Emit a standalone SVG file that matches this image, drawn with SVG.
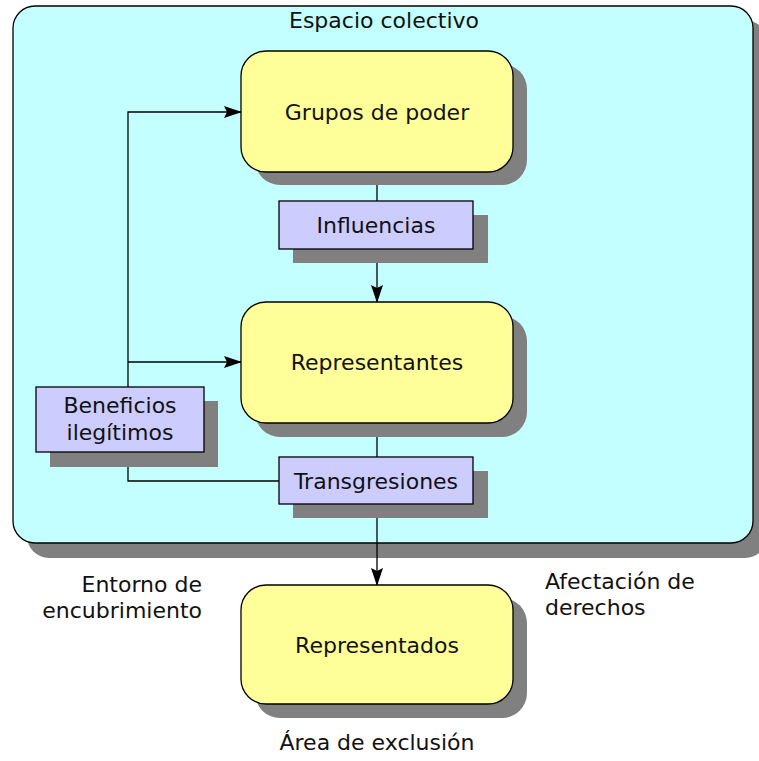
<svg xmlns="http://www.w3.org/2000/svg" width="759" height="761" viewBox="0 0 759 761">
<defs>
<style>
text{font-family:"DejaVu Sans","Verdana",sans-serif;font-size:22px;fill:#111;}
.c{text-anchor:middle;}
.sh{fill:#808080;}
.node{fill:#ffff99;stroke:#000;stroke-width:1.3;}
.lab{fill:#ccccff;stroke:#000;stroke-width:1.3;}
.ln{fill:none;stroke:#000;stroke-width:1.3;}
</style>
<marker id="ah" markerWidth="18" markerHeight="12" refX="17" refY="6" orient="auto" markerUnits="userSpaceOnUse">
<path d="M0,0 L18,6 L0,12 L3,6 Z" fill="#000"/>
</marker>
</defs>
<rect width="759" height="761" fill="#fff"/>
<g id="espacio-colectivo">
<rect class="sh" x="27" y="20" width="740" height="538" rx="22"/>
<rect x="13" y="6" width="740" height="537" rx="22" fill="#c4ffff" stroke="#000" stroke-width="1.3"/>
<text class="c" x="384" y="28">Espacio colectivo</text>
</g>
<g id="connectors">
<path class="ln" d="M377,172 V201"/>
<path class="ln" d="M377,249 V302" marker-end="url(#ah)"/>
<path class="ln" d="M377,423 V457"/>
<path class="ln" d="M377,504 V585" marker-end="url(#ah)"/>
<path class="ln" d="M128,387 V112 H241" marker-end="url(#ah)"/>
<path class="ln" d="M128,362 H241" marker-end="url(#ah)"/>
<path class="ln" d="M279,481 H128 V452"/>
</g>
<g id="grupos-de-poder">
<rect class="sh" x="255" y="64" width="272" height="121" rx="25"/>
<rect class="node" x="241" y="51" width="272" height="121" rx="25"/>
<text class="c" x="377" y="120">Grupos de poder</text>
</g>
<g id="influencias">
<rect class="sh" x="293" y="215" width="195" height="48"/>
<rect class="lab" x="279" y="201" width="194" height="48"/>
<text class="c" x="376" y="233">Influencias</text>
</g>
<g id="representantes">
<rect class="sh" x="255" y="316" width="272" height="121" rx="25"/>
<rect class="node" x="241" y="302" width="272" height="121" rx="25"/>
<text class="c" x="377" y="370">Representantes</text>
</g>
<g id="beneficios">
<rect class="sh" x="50" y="401" width="168" height="66"/>
<rect class="lab" x="36" y="387" width="168" height="65"/>
<text class="c" x="120" y="413">Beneficios</text>
<text class="c" x="120" y="440">ilegítimos</text>
</g>
<g id="transgresiones">
<rect class="sh" x="293" y="471" width="195" height="47"/>
<rect class="lab" x="279" y="457" width="194" height="47"/>
<text class="c" x="376" y="489">Transgresiones</text>
</g>
<g id="representados">
<rect class="sh" x="255" y="598" width="272" height="120" rx="25"/>
<rect class="node" x="241" y="585" width="272" height="119" rx="25"/>
<text class="c" x="377" y="653">Representados</text>
</g>
<g id="labels">
<text x="202" y="592" text-anchor="end">Entorno de</text>
<text x="202" y="618" text-anchor="end">encubrimiento</text>
<text x="545" y="589">Afectación de</text>
<text x="545" y="615">derechos</text>
<text class="c" x="377" y="750">Área de exclusión</text>
</g>
</svg>
